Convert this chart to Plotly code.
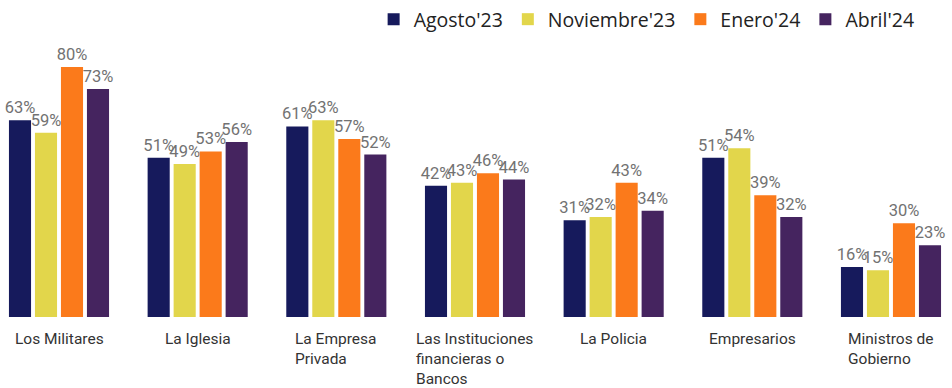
import plotly.graph_objects as go

# Confidence levels by institution across four survey waves
categories = [
    "Los Militares",
    "La Iglesia",
    "La Empresa<br>Privada",
    "Las Instituciones<br>financieras o<br>Bancos",
    "La Policia",
    "Empresarios",
    "Ministros de<br>Gobierno",
]
agosto_23 = [63, 51, 61, 42, 31, 51, 16]
noviembre_23 = [59, 49, 63, 43, 32, 54, 15]
enero_24 = [80, 53, 57, 46, 43, 39, 30]
abril_24 = [73, 56, 52, 44, 34, 32, 23]

series = [
    ("Agosto'23", agosto_23, "#161a5c"),
    ("Noviembre'23", noviembre_23, "#e2d64b"),
    ("Enero'24", enero_24, "#fb7a1b"),
    ("Abril'24", abril_24, "#45245f"),
]

x_idx = list(range(len(categories)))

fig = go.Figure()
for name, vals, color in series:
    fig.add_trace(go.Bar(
        x=x_idx,
        y=vals,
        name=name,
        marker=dict(color=color, line=dict(width=0)),
        texttemplate="%{y}%",
        textposition="outside",
        constraintext="none",
        cliponaxis=False,
        textfont=dict(family="Roboto", size=16.5, color="#727272"),
        hoverinfo="skip",
    ))

# Category names under each group, lines left-aligned within the block
for i, label in enumerate(categories):
    fig.add_annotation(
        x=i, y=0, xref="x", yref="y",
        text=label,
        showarrow=False,
        xanchor="center", yanchor="top",
        align="left",
        yshift=-11,
        font=dict(family="Roboto", size=15.5, color="#333333"),
    )

fig.update_layout(
    width=952,
    height=388,
    margin=dict(l=0, r=0, t=50, b=71),
    paper_bgcolor="white",
    plot_bgcolor="white",
    barmode="group",
    bargap=0.25,
    bargroupgap=0.15,
    showlegend=True,
    legend=dict(
        orientation="h",
        x=0.966, xanchor="right",
        y=1.115, yanchor="middle",
        font=dict(family="Open Sans", size=19.5, color="#222222"),
        itemwidth=30,
        traceorder="normal",
        bgcolor="rgba(0,0,0,0)",
    ),
    xaxis=dict(
        range=[-0.4255, 6.44],
        showticklabels=False,
        showgrid=False,
        zeroline=False,
        showline=False,
        ticks="",
    ),
    yaxis=dict(
        range=[0, 85.44],
        visible=False,
        showgrid=False,
        zeroline=False,
    ),
)

fig.write_html("out.html")
